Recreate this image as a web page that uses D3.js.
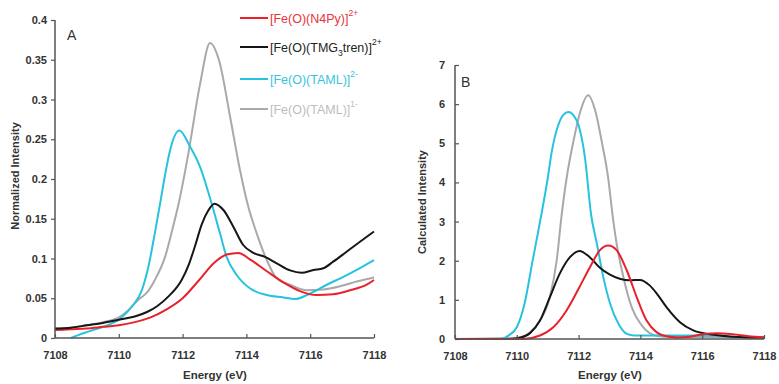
<!DOCTYPE html>
<html>
<head>
<meta charset="utf-8">
<script src="https://cdn.jsdelivr.net/npm/d3@7/dist/d3.min.js"></script>
<style>
  html, body { margin: 0; padding: 0; background: #fff; }
  svg { display: block; font-family: "Liberation Sans", Arial, sans-serif; }
  .tick text { font-weight: bold; fill: #333; }
</style>
</head>
<body>
<svg id="chart" width="779" height="384"></svg>
<script>
// ---------- Panel A data: experimental pre-edge (Normalized Intensity) ----------
const aN4PyE   = [7108, 7108.5, 7109, 7109.5, 7110, 7110.5, 7111.0, 7111.5, 7112.0, 7112.5, 7113.0, 7113.38, 7113.75, 7114.11, 7114.64, 7115.16, 7115.68, 7116.2, 7116.72, 7117.25, 7117.77, 7118];
const aN4PyV   = [0.010, 0.011, 0.012, 0.014, 0.016, 0.020, 0.026, 0.036, 0.050, 0.072, 0.095, 0.105, 0.107, 0.099, 0.084, 0.070, 0.059, 0.054, 0.055, 0.060, 0.067, 0.073];

const aTMGE    = [7108, 7108.5, 7109, 7109.5, 7110, 7110.5, 7110.9, 7111.2, 7111.55, 7111.97, 7112.2, 7112.4, 7112.6, 7112.8, 7113.0, 7113.28, 7113.59, 7113.9, 7114.22, 7114.58, 7114.95, 7115.37, 7115.73, 7116.1, 7116.41, 7116.72, 7117.14, 7117.56, 7118];
const aTMGV    = [0.012, 0.013, 0.016, 0.019, 0.023, 0.027, 0.033, 0.040, 0.052, 0.073, 0.093, 0.117, 0.143, 0.160, 0.169, 0.161, 0.140, 0.117, 0.107, 0.102, 0.094, 0.085, 0.082, 0.0855, 0.0877, 0.096, 0.1085, 0.121, 0.134];

const aTAML2E  = [7108.5, 7108.75, 7109.04, 7109.57, 7110, 7110.4, 7110.72, 7110.93, 7111.13, 7111.29, 7111.45, 7111.6, 7111.9, 7112.23, 7112.55, 7112.86, 7113.17, 7113.38, 7113.7, 7114.11, 7114.64, 7115.16, 7115.52, 7116.0, 7116.52, 7117.04, 7117.56, 7118];
const aTAML2V  = [0.000, 0.004, 0.008, 0.015, 0.023, 0.039, 0.060, 0.090, 0.132, 0.168, 0.205, 0.235, 0.261, 0.241, 0.215, 0.176, 0.132, 0.102, 0.079, 0.0625, 0.054, 0.051, 0.049, 0.056, 0.067, 0.077, 0.088, 0.098];

const aTAML1E  = [7108, 7108.5, 7109, 7109.5, 7110, 7110.3, 7110.61, 7110.9, 7111.13, 7111.45, 7111.7, 7111.87, 7112.18, 7112.55, 7112.86, 7113.15, 7113.49, 7113.8, 7114.06, 7114.32, 7114.64, 7114.95, 7115.37, 7115.89, 7116.41, 7116.93, 7117.46, 7118];
const aTAML1V  = [0.012, 0.013, 0.016, 0.020, 0.026, 0.035, 0.048, 0.058, 0.073, 0.102, 0.140, 0.168, 0.232, 0.320, 0.371, 0.348, 0.278, 0.211, 0.165, 0.132, 0.098, 0.075, 0.067, 0.060, 0.061, 0.065, 0.071, 0.076];

// ---------- Panel B data: calculated spectra (Calculated Intensity) ----------
const bN4PyE   = [7108, 7110.2, 7110.75, 7111.18, 7111.61, 7112.03, 7112.37, 7112.69, 7112.96, 7113.23, 7113.56, 7113.88, 7114.2, 7114.53, 7114.85, 7115.2, 7115.6, 7116.0, 7116.5, 7117.0, 7117.5, 7118];
const bN4PyV   = [0, 0.0, 0.09, 0.30, 0.73, 1.33, 1.84, 2.27, 2.39, 2.27, 1.75, 1.07, 0.47, 0.17, 0.07, 0.04, 0.06, 0.12, 0.15, 0.12, 0.07, 0.04];

const bTMGE    = [7108, 7109.8, 7110.1, 7110.43, 7110.75, 7111.07, 7111.39, 7111.72, 7112.03, 7112.36, 7112.69, 7113.0, 7113.33, 7113.66, 7113.98, 7114.3, 7114.53, 7114.85, 7115.28, 7115.71, 7116.25, 7117.0, 7118];
const bTMGV    = [0, 0.0, 0.03, 0.15, 0.47, 1.07, 1.67, 2.09, 2.25, 2.09, 1.82, 1.65, 1.54, 1.50, 1.51, 1.37, 1.16, 0.81, 0.43, 0.22, 0.12, 0.06, 0.03];

const bTAML2E  = [7108, 7109.5, 7109.75, 7110.0, 7110.25, 7110.5, 7110.8, 7111.0, 7111.13, 7111.34, 7111.5, 7111.67, 7111.85, 7112.0, 7112.21, 7112.4, 7112.59, 7112.8, 7113.02, 7113.29, 7113.56, 7113.8, 7114.2, 7116.3, 7117.0, 7118];
const bTAML2V  = [0, 0.0, 0.10, 0.30, 0.90, 1.95, 3.20, 4.10, 4.78, 5.46, 5.72, 5.80, 5.70, 5.46, 4.61, 3.20, 2.44, 1.58, 0.90, 0.39, 0.13, 0.09, 0.09, 0.09, 0.06, 0.03];

const bTAML1E  = [7108, 7110.0, 7110.43, 7110.75, 7111.07, 7111.29, 7111.45, 7111.61, 7111.83, 7112.05, 7112.31, 7112.55, 7112.75, 7112.96, 7113.1, 7113.23, 7113.45, 7113.72, 7114.04, 7114.3, 7114.6, 7115.0, 7118];
const bTAML1V  = [0, 0.03, 0.17, 0.47, 1.07, 2.00, 3.16, 4.10, 5.04, 5.80, 6.23, 5.80, 5.04, 4.10, 3.16, 2.44, 1.58, 0.81, 0.35, 0.15, 0.07, 0.05, 0.05];

// ---------- Axis ticks / labels ----------
const xTicks       = [7108, 7110, 7112, 7114, 7116, 7118];
const aYTicks      = [0, 0.05, 0.1, 0.15, 0.2, 0.25, 0.3, 0.35, 0.4];
const bYTicks      = [0, 1, 2, 3, 4, 5, 6, 7];
const seriesNames  = ["[Fe(O)(N4Py)]", "[Fe(O)(TMG3tren)]", "[Fe(O)(TAML)]", "[Fe(O)(TAML)]"];
const seriesCharge = ["2+", "2+", "2-", "1-"];
const lineColors   = ["#e8212b", "#161616", "#27c3de", "#a9a9a9"];
const textColors   = ["#e8333a", "#222222", "#35c4dd", "#bdbdbd"];

const svg = d3.select("#chart");
const axisColor = "#555";

function zip(E, V) { return E.map((e, i) => ({ e: e, v: V[i] })); }

// ===== Panel A =====
const xA = d3.scaleLinear().domain([7108, 7118]).range([55, 374]);
const yA = d3.scaleLinear().domain([0, 0.4]).range([338, 20]);

const gA = svg.append("g");
const lineA = d3.line().x(d => xA(d.e)).y(d => yA(d.v)).curve(d3.curveMonotoneX);
const aSeries = [zip(aTAML1E, aTAML1V), zip(aTAML2E, aTAML2V), zip(aN4PyE, aN4PyV), zip(aTMGE, aTMGV)];
const aColorIdx = [3, 2, 0, 1];
aSeries.forEach((s, i) => {
  gA.append("path").datum(s).attr("d", lineA)
    .attr("fill", "none").attr("stroke", lineColors[aColorIdx[i]])
    .attr("stroke-width", 2).attr("stroke-linejoin", "round");
});

const axAy = gA.append("g").attr("transform", "translate(55,0)")
  .call(d3.axisLeft(yA).tickValues(aYTicks).tickSize(4).tickPadding(4).tickFormat(d => d3.format("")(+d.toFixed(2))));
const axAx = gA.append("g").attr("transform", "translate(0,338)")
  .call(d3.axisBottom(xA).tickValues(xTicks).tickSize(-4).tickPadding(13).tickFormat(d3.format("d")));

// ===== Panel B =====
const xB = d3.scaleLinear().domain([7108, 7118]).range([455, 764]);
const yB = d3.scaleLinear().domain([0, 7]).range([339, 65]);

const gB = svg.append("g");
const lineB = d3.line().x(d => xB(d.e)).y(d => yB(d.v)).curve(d3.curveMonotoneX);
const bSeries = [zip(bTAML1E, bTAML1V), zip(bTAML2E, bTAML2V), zip(bTMGE, bTMGV), zip(bN4PyE, bN4PyV)];
const bColorIdx = [3, 2, 1, 0];
bSeries.forEach((s, i) => {
  gB.append("path").datum(s).attr("d", lineB)
    .attr("fill", "none").attr("stroke", lineColors[bColorIdx[i]])
    .attr("stroke-width", 2).attr("stroke-linejoin", "round");
});

const axBy = gB.append("g").attr("transform", "translate(455,0)")
  .call(d3.axisLeft(yB).tickValues(bYTicks).tickSize(-4).tickPadding(10).tickFormat(d3.format("d")));
const axBx = gB.append("g").attr("transform", "translate(0,339)")
  .call(d3.axisBottom(xB).tickValues(xTicks).tickSize(-4).tickPadding(13).tickFormat(d3.format("d")));

// axis styling
[axAy, axAx, axBy, axBx].forEach(ax => {
  ax.select(".domain").attr("stroke", axisColor).attr("stroke-width", 1.5);
  ax.selectAll(".tick line").attr("stroke", axisColor).attr("stroke-width", 1.2);
  ax.selectAll(".tick text").attr("font-size", 11).attr("font-weight", "bold").attr("fill", "#333")
    .attr("font-family", "'Liberation Sans', Arial, sans-serif");
});
[axAy, axBy].forEach(ax => ax.select(".domain").attr("d", function() {
  const r = (ax === axAy ? yA : yB).range();
  return "M0," + r[0] + "V" + r[1];
}));
[axAx, axBx].forEach(ax => ax.select(".domain").attr("d", function() {
  const r = (ax === axAx ? xA : xB).range();
  return "M" + r[0] + ",0H" + r[1];
}));

// axis titles
svg.append("text").attr("x", 215).attr("y", 379).attr("text-anchor", "middle")
  .attr("font-size", 11.5).attr("font-weight", "bold").attr("fill", "#333").text("Energy (eV)");
svg.append("text").attr("x", 610).attr("y", 379).attr("text-anchor", "middle")
  .attr("font-size", 11.5).attr("font-weight", "bold").attr("fill", "#333").text("Energy (eV)");
svg.append("text").attr("transform", "translate(19,176) rotate(-90)").attr("text-anchor", "middle")
  .attr("font-size", 11).attr("font-weight", "bold").attr("fill", "#333").text("Normalized Intensity");
svg.append("text").attr("transform", "translate(426,202) rotate(-90)").attr("text-anchor", "middle")
  .attr("font-size", 11).attr("font-weight", "bold").attr("fill", "#333").text("Calculated Intensity");

// panel letters
svg.append("text").attr("x", 67).attr("y", 40).attr("font-size", 14).attr("fill", "#333").text("A");
svg.append("text").attr("x", 461).attr("y", 87).attr("font-size", 14).attr("fill", "#333").text("B");

// legend
const legY = [18, 47, 79, 109];
seriesNames.forEach((name, i) => {
  const y = legY[i];
  svg.append("line").attr("x1", 240).attr("x2", 268).attr("y1", y).attr("y2", y)
    .attr("stroke", lineColors[i]).attr("stroke-width", 2);
  const t = svg.append("text").attr("x", 270).attr("y", y + 5).attr("font-size", 12.5)
    .attr("fill", textColors[i]);
  if (name.indexOf("TMG3") >= 0) {
    t.append("tspan").text("[Fe(O)(TMG");
    t.append("tspan").attr("dy", 4).attr("font-size", 8.5).text("3");
    t.append("tspan").attr("dy", -4).text("tren)]");
  } else {
    t.append("tspan").text(name);
  }
  t.append("tspan").attr("dy", -7).attr("font-size", 8.5).text(seriesCharge[i]);
});
</script>
</body>
</html>
